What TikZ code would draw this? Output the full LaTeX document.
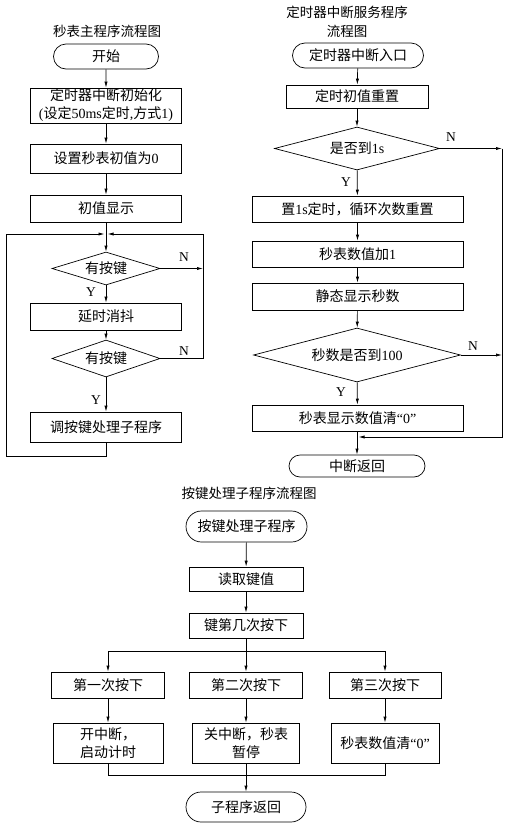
\documentclass[tikz,border=0pt]{standalone}
\usepackage{fontspec}
\setmainfont{Noto Sans CJK SC}
\newfontfamily\lat{Liberation Serif}
\usetikzlibrary{arrows.meta,shapes.geometric,shapes.misc}
\tikzset{
  every node/.style={font=\fontsize{14}{18}\selectfont, inner sep=0pt},
  ttl/.style={align=center, font=\fontsize{13.5}{19}\selectfont},
  box/.style 2 args={draw, rectangle, align=center, minimum width=#1pt, minimum height=#2pt},
  term/.style 2 args={draw, rounded rectangle, align=center, minimum width=#1pt, minimum height=#2pt},
  dec/.style 2 args={draw, diamond, aspect=2.5, align=center, minimum width=#1pt, minimum height=#2pt},
  yn/.style={font=\lat\fontsize{13.5}{13.5}\selectfont},
  arr/.style={-{Latex[length=6pt,width=3.2pt]}},
}
\begin{document}
\begin{tikzpicture}[x=1pt,y=-1pt,line width=0.7pt]
\useasboundingbox (0,0) rectangle (519,833);
% ---------------- main program ----------------
\node[ttl] (title1) at (107,31) {秒表主程序流程图};
\node[term={105}{25}] (start) at (106,56.5) {开始};
\node[box={151}{35}] (init) at (106,105.5) {定时器中断初始化\\{\lat(}设定{\lat 50ms}定时{\lat ,}方式{\lat 1)}};
\node[box={151}{29}] (setz) at (106,158.5) {设置秒表初值为{\lat 0}};
\node[box={151}{27}] (disp) at (106,208.5) {初值显示};
\node[dec={108}{33}] (d1) at (106,268.5) {有按键};
\node[box={151}{27}] (delay) at (106,316.5) {延时消抖};
\node[dec={108}{37}] (d2) at (106,358.5) {有按键};
\node[box={151}{30}] (call) at (106,427) {调按键处理子程序};
\coordinate (j1) at (106,234);
\coordinate (lb) at (6,456);
\coordinate (rt) at (203,234);
\draw[arr] (start) -- (init);
\draw[arr] (init) -- (setz);
\draw[arr] (setz) -- (disp);
\draw[arr] (disp) -- (d1);
\draw[arr] (d1) -- (delay);
\draw[arr] (delay) -- (d2);
\draw[arr] (d2) -- (call);
\draw[arr,shorten >=1.5pt] (call.south) |- (lb) |- (j1);
\draw[arr,shorten >=1.5pt] (d2.east) -| (rt) -- (j1);
\draw[arr] (d1.east) -- (d1.east -| rt);
\node[yn] (n1) at (184,257) {N};
\node[yn] (y1) at (91,292) {Y};
\node[yn] (n2) at (184,351) {N};
\node[yn] (y2) at (96,400) {Y};
% ---------------- timer ISR ----------------
\node[ttl] (title2) at (347,22) {定时器中断服务程序\\流程图};
\node[term={131}{25}] (t2) at (358,55.5) {定时器中断入口};
\node[box={142}{23}] (c1) at (357,96.5) {定时初值重置};
\node[dec={165}{43}] (cd1) at (357,148.5) {是否到{\lat 1s}};
\node[box={211}{26}] (c2) at (357.5,209) {置{\lat 1s}定时，循环次数重置};
\node[box={211}{26}] (c3) at (357.5,254) {秒表数值加{\lat 1}};
\node[box={211}{27}] (c4) at (357.5,296.5) {静态显示秒数};
\node[dec={207}{54}] (cd2) at (357,355) {秒数是否到{\lat 100}};
\node[box={211}{26}] (c5) at (357.5,418) {秒表显示数值清{\lat “0”}};
\node[term={136}{22}] (t3) at (357,466) {中断返回};
\coordinate (rr) at (502,148.5);
\coordinate (rb) at (502,437);
\coordinate (j2) at (357,437);
\draw[arr] (t2) -- (c1);
\draw[arr] (c1) -- (cd1);
\draw[arr] (cd1) -- (c2);
\draw[arr] (c2) -- (c3);
\draw[arr] (c3) -- (c4);
\draw[arr] (c4) -- (cd2);
\draw[arr] (cd2) -- (c5);
\draw[arr] (c5.south -| t3.north) -- (t3.north);
\draw[arr] (cd1.east) -- (rr);
\draw[arr] (cd2.east) -- (cd2.east -| rr);
\draw[arr,shorten >=1.5pt] (rr) -- (rb) -- (j2);
\node[yn] (n3) at (451,137) {N};
\node[yn] (y3) at (346,182) {Y};
\node[yn] (n4) at (473,346) {N};
\node[yn] (y4) at (341,392) {Y};
% ---------------- key handler ----------------
\node[ttl] (title3) at (249,493) {按键处理子程序流程图};
\node[term={121}{31}] (t4) at (246.5,526.5) {按键处理子程序};
\node[box={114}{24}] (e1) at (246,579) {读取键值};
\node[box={114}{25}] (e2) at (246,625.5) {键第几次按下};
\node[box={113}{26}] (f1) at (108,685) {第一次按下};
\node[box={113}{26}] (f2) at (246,685) {第二次按下};
\node[box={112}{26}] (f3) at (385,685) {第三次按下};
\node[box={110}{40}] (g1) at (108,743) {开中断，\\启动计时};
\node[box={107}{40}] (g2) at (246,743) {关中断，秒表\\暂停};
\node[box={108}{40}] (g3) at (385,743) {秒表数值清{\lat “0”}};
\node[term={120}{30}] (t5) at (246,807) {子程序返回};
\coordinate (bl) at (108,651);
\coordinate (bm) at (246,651);
\coordinate (br) at (385,651);
\coordinate (jl) at (108,775);
\coordinate (jr) at (385,775);
\draw[arr] (t4) -- (e1);
\draw[arr] (e1) -- (e2);
\draw (e2.south) -- (bm);
\draw (bl) -- (br);
\draw[arr] (bl) -- (f1);
\draw[arr] (bm) -- (f2);
\draw[arr] (br) -- (f3);
\draw[arr] (f1) -- (g1);
\draw[arr] (f2) -- (g2);
\draw[arr] (f3) -- (g3);
\draw (g1.south) -- (jl) -- (jr) -- (g3.south);
\draw[arr] (g2) -- (t5);
\end{tikzpicture}
\end{document}
